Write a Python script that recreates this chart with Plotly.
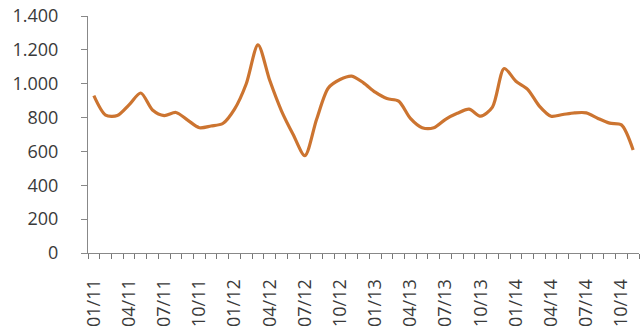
import plotly.graph_objects as go

months = [f"{m:02d}/{y}" for y in (11, 12, 13, 14) for m in range(1, 13)][:47]
values = [930, 815, 812, 875, 945, 845, 812, 830, 785, 740, 750, 765,
          850, 1000, 1230, 1020, 840, 700, 575, 790, 975, 1025, 1045, 1005,
          950, 912, 897, 795, 740, 740, 790, 825, 850, 808, 862, 1090,
          1015, 967, 868, 808, 818, 828, 828, 795, 767, 757, 609]
tick_labels = [m if i % 3 == 0 else "" for i, m in enumerate(months)]
y_ticks = [0, 200, 400, 600, 800, 1000, 1200, 1400]
y_tick_text = ["0", "200", "400", "600", "800", "1.000", "1.200", "1.400"]

fig = go.Figure(go.Scatter(
    x=months, y=values, mode="lines",
    line=dict(color="#CC7430", width=3.2, shape="spline", smoothing=0.8),
))

fig.update_layout(
    width=641, height=331,
    margin=dict(l=88, r=2, t=16, b=78),
    paper_bgcolor="white", plot_bgcolor="white",
    showlegend=False,
    font=dict(family="Open Sans", size=18, color="#3a3a3a"),
)
fig.update_xaxes(
    type="category", tickmode="array", tickvals=months, ticktext=tick_labels,
    range=[-0.5, len(months) - 0.5],
    tickson="boundaries", ticks="outside", ticklen=5, tickcolor="#777777",
    tickangle=-90, showline=True, linecolor="#888888", linewidth=1,
    showgrid=False, zeroline=False, ticklabelstandoff=18,
)
fig.update_yaxes(
    range=[0, 1400], tickmode="array", tickvals=y_ticks, ticktext=y_tick_text,
    ticks="outside", ticklen=6, tickcolor="#888888", showline=True,
    linecolor="#888888", linewidth=1, showgrid=False, zeroline=False,
    ticklabelstandoff=19,
)

fig.write_html("out.html")
